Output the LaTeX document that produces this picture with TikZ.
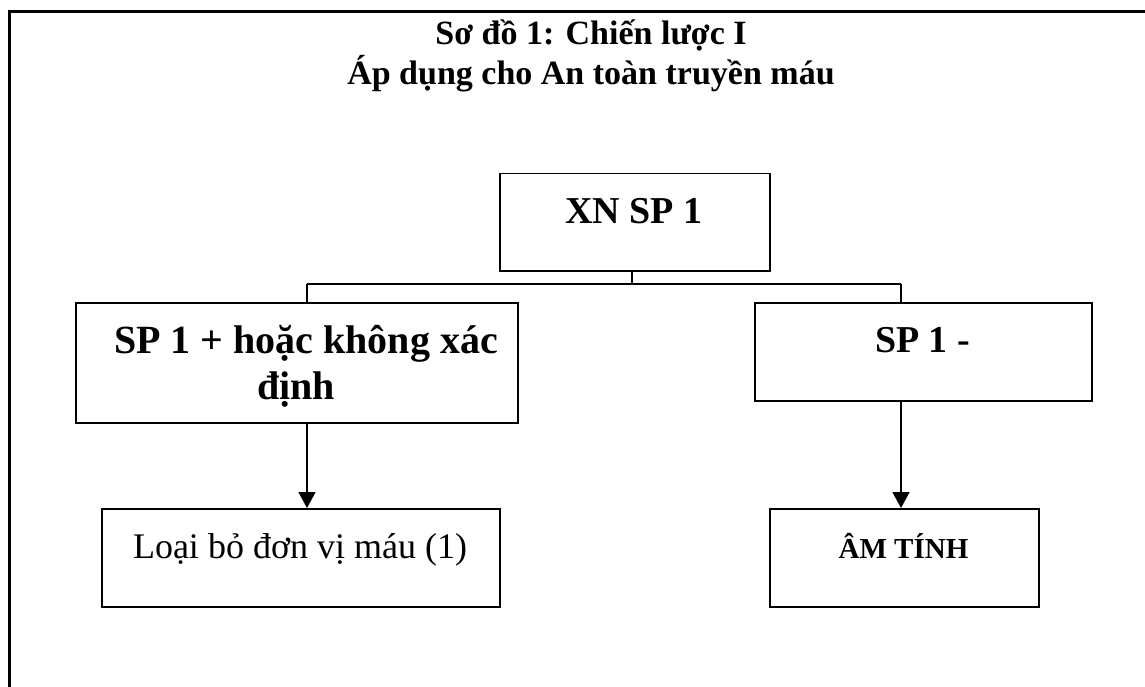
\documentclass[tikz,border=0pt]{standalone}
\usepackage{fontspec}
\setmainfont{Liberation Serif}
\usetikzlibrary{arrows.meta}
\tikzset{
  box/.style={draw, line width=1.5pt, rectangle, inner sep=0pt, anchor=north west},
  arr/.style={line width=1.5pt, -{Triangle[length=16pt,width=17pt]}},
  conn/.style={line width=1.5pt},
  frame/.style={line width=3pt},
  btxt/.style={anchor=base, font=\bfseries\fontsize{38}{46}\selectfont},
}
\begin{document}
\begin{tikzpicture}[x=1pt,y=-1pt]
\useasboundingbox (0,0) rectangle (1145,687);
% outer frame (top and left only visible)
\draw[frame] (9,700) -- (9,12) -- (1160,12);
% title
\node[anchor=base, font=\bfseries\fontsize{34}{40}\selectfont] (t1) at (591,45) {Sơ đồ 1: Chiến lược I};
\node[anchor=base, font=\bfseries\fontsize{34}{40}\selectfont] (t2) at (591,85) {Áp dụng cho An toàn truyền máu};
% boxes
\node[box, minimum width=270pt, minimum height=97pt] (top) at (499,173) {};
\node[btxt] (toptxt) at (634,223) {XN SP 1};
\node[box, minimum width=442pt, minimum height=120pt] (left) at (75,302) {};
\node[btxt, font=\bfseries\fontsize{40}{46}\selectfont] (lefttxt1) at (306,353) {SP 1 + hoặc không xác};
\node[btxt, font=\bfseries\fontsize{40}{46}\selectfont] (lefttxt2) at (296,399) {định};
\node[box, minimum width=337pt, minimum height=98pt] (right) at (754,302) {};
\node[btxt] (righttxt) at (922.5,352) {SP 1 -};
\node[box, minimum width=398pt, minimum height=98pt] (lb) at (101,508) {};
\node[anchor=base, font=\fontsize{36}{40}\selectfont] (lbtxt) at (300,558) {Loại bỏ đơn vị máu (1)};
\node[box, minimum width=269pt, minimum height=98pt] (rb) at (769,508) {};
\node[anchor=base, font=\bfseries\fontsize{29}{33}\selectfont] (rbtxt) at (903.5,558) {ÂM TÍNH};
% connectors
\coordinate (j) at (632,284);
\coordinate (lj) at (307,284);
\coordinate (rj) at (901,284);
\draw[conn] (j |- top.south) -- (j);
\draw[conn] (lj) -- (rj);
\draw[conn] (lj) -- (lj |- left.north);
\draw[conn] (rj) -- (rj |- right.north);
\draw[arr] (lj |- left.south) -- (lj |- lb.north);
\draw[arr] (rj |- right.south) -- (rj |- rb.north);
\end{tikzpicture}
\end{document}
